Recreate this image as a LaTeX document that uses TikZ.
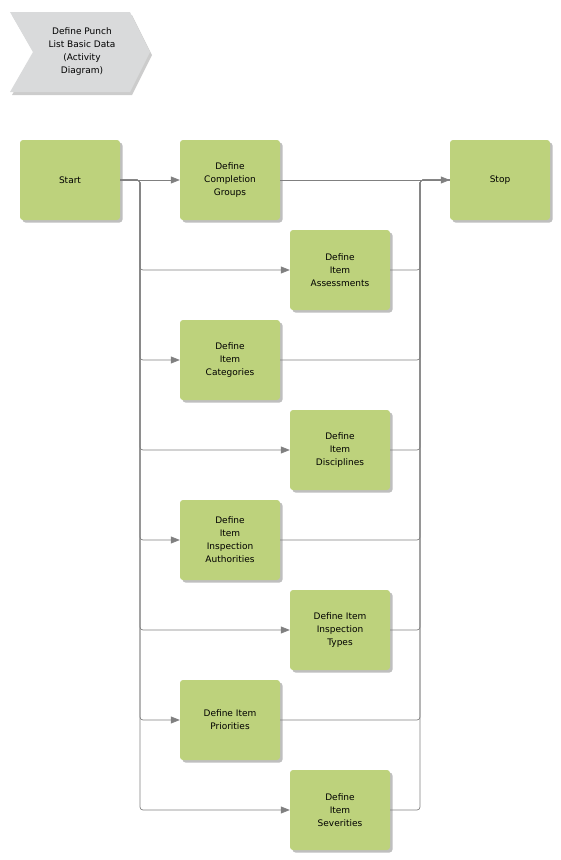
\documentclass[tikz,border=0pt]{standalone}
\usepackage{fontspec}
\setmainfont{DejaVu Sans}
\usetikzlibrary{arrows.meta, positioning, shadows}

\definecolor{actgreen}{HTML}{BDD27C}
\definecolor{hdrgray}{HTML}{D9DADB}
\definecolor{flowgray}{HTML}{808080}

\tikzset{
  activity/.style={fill=actgreen, rounded corners=3pt, minimum width=100pt,
    minimum height=80pt, align=center, inner sep=2pt,
    drop shadow={shadow xshift=2.5pt, shadow yshift=-2.5pt, fill=black, opacity=0.25}},
  flow/.style={draw=flowgray, line width=0.7pt, rounded corners=3pt,
    -{Triangle[length=9pt, width=7pt]}},
  plainflow/.style={draw=flowgray, line width=0.7pt, rounded corners=3pt}
}

\begin{document}
\begin{tikzpicture}[x=1pt, y=-1pt, font=\fontsize{9}{13}\selectfont]
  \useasboundingbox (0,0) rectangle (560,860);

  % header chevron
  \fill[black, opacity=0.2] (12,15) -- (132,15) -- (152,55) -- (132,95) -- (12,95) -- (35,55) -- cycle;
  \fill[hdrgray] (10,12) -- (130,12) -- (150,52) -- (130,92) -- (10,92) -- (33,52) -- cycle;
  \node[align=center] (title) at (82,52) {Define Punch\\List Basic Data\\(Activity\\Diagram)};

  % activities
  \node[activity] (start) at (70,180) {Start};
  \node[activity] (groups) at (230,180) {Define\\Completion\\Groups};
  \node[activity] (stop) at (500,180) {Stop};
  \node[activity] (assess) at (340,270) {Define\\Item\\Assessments};
  \node[activity] (categ) at (230,360) {Define\\Item\\Categories};
  \node[activity] (discip) at (340,450) {Define\\Item\\Disciplines};
  \node[activity] (auth) at (230,540) {Define\\Item\\Inspection\\Authorities};
  \node[activity] (types) at (340,630) {Define Item\\Inspection\\Types};
  \node[activity] (prio) at (230,720) {Define Item\\Priorities};
  \node[activity] (sever) at (340,810) {Define\\Item\\Severities};

  \coordinate (fork) at (140,180);
  \coordinate (join) at (420,180);

  % fork
  \draw[flow] (start.east) -- (groups.west);
  \foreach \n in {assess, categ, discip, auth, types, prio, sever}
    \draw[flow] (start.east) -- (fork) |- (\n.west);

  % join
  \draw[flow] (groups.east) -- (stop.west);
  \foreach \n in {assess, categ, discip, auth, types, prio, sever}
    \draw[plainflow] (\n.east) -| (join) -- (stop.west);
\end{tikzpicture}
\end{document}
